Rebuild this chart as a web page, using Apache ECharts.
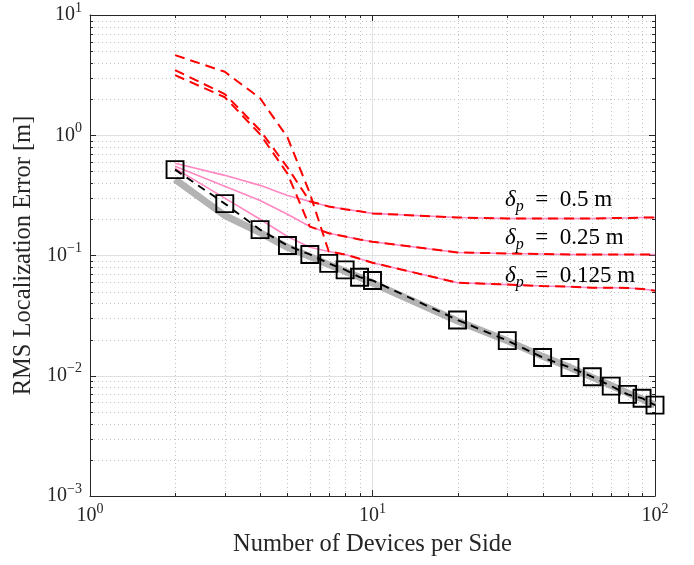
<!DOCTYPE html>
<html><head><meta charset="utf-8">
<script src="https://cdn.jsdelivr.net/npm/echarts@6/dist/echarts.min.js"></script>
<style>html,body{margin:0;padding:0;background:#fff}#c{width:694px;height:565px}</style>
</head><body><div id="c"></div>
<script>
// ---- data ----
const devices = [2,3,4,5,6,7,8,9,10,20,30,40,50,60,70,80,90,100];
const rmseSim = [0.518,0.27,0.164,0.121,0.102,0.086,0.076,0.066,0.062,0.0291,0.0196,0.0142,0.0117,0.0098,0.0082,0.0070,0.0065,0.0057];
const bound   = [0.43,0.215,0.155,0.117,0.098,0.084,0.074,0.066,0.059,0.0285,0.0195,0.0145,0.0117,0.0097,0.0083,0.0072,0.0064,0.0057];
const pinkHalf    = [0.585,0.464,0.383,0.316,0.282,0.256,0.242,0.233,0.224,0.207,0.203,0.203,0.203,0.203,0.205,0.205,0.207,0.207];
const pinkQuarter = [0.552,0.376,0.287,0.22,0.174,0.153,0.144,0.136,0.13,0.106,0.104,0.103,0.102,0.102,0.102,0.102,0.102,0.102];
const pinkEighth  = [0.53,0.30,0.20,0.144,0.117,0.108,0.102,0.094,0.087,0.0594,0.0573,0.0557,0.055,0.054,0.054,0.0537,0.0527,0.051];
const redHalf     = [3.48,2.2,1.1,0.54,0.282,0.256,0.242,0.233,0.224,0.207,0.203,0.203,0.203,0.203,0.205,0.205,0.207,0.207];
const redQuarter  = [3.16,2.07,1.02,0.48,0.174,0.153,0.144,0.136,0.13,0.106,0.104,0.103,0.102,0.102,0.102,0.102,0.102,0.102];
const redEighth   = [4.64,3.37,2.03,0.96,0.33,0.108,0.102,0.094,0.087,0.0594,0.0573,0.0557,0.055,0.054,0.054,0.0537,0.0527,0.051];
const xMinor = [2,3,4,5,6,7,8,9,20,30,40,50,60,70,80,90];
const yMinor = [0.002,0.003,0.004,0.005,0.006,0.007,0.008,0.009,0.02,0.03,0.04,0.05,0.06,0.07,0.08,0.09,0.2,0.3,0.4,0.5,0.6,0.7,0.8,0.9,2,3,4,5,6,7,8,9];
const deltaValues = ['0.5','0.25','0.125'];
const xName = 'Number of Devices per Side';
const yName = 'RMS Localization Error [m]';

// ---- chart ----
const FONT = 'Liberation Serif';
const AX = '#262626';
const xMin = 1, xMax = 100, yMin = 0.001, yMax = 10;
const pairs = arr => devices.map((x, i) => [x, arr[i]]);
const expLabel = v => {
  const e = Math.round(Math.log10(v));
  return '{b|10}{s|' + (e < 0 ? '\u2212' + (-e) : e) + '}';
};
const tickRich = {
  b: {fontFamily: FONT, fontSize: 20, lineHeight: 28, color: AX},
  s: {fontFamily: FONT, fontSize: 14, lineHeight: 16, verticalAlign: 'top', color: AX}
};
function minorRender(kind) {
  return function (params, api) {
    const cs = params.coordSys;
    const v = api.value(kind === 'x' ? 0 : 1);
    const dot = {stroke: '#c2c2c2', lineWidth: 1, lineDash: [1, 3]};
    const tk = {stroke: AX, lineWidth: 1};
    const ch = [];
    if (kind === 'x') {
      const p = Math.round(api.coord([v, yMin])[0]) + 0.5;
      const t = cs.y, b = cs.y + cs.height;
      ch.push({type: 'line', shape: {x1: p, y1: t, x2: p, y2: b}, style: dot});
      ch.push({type: 'line', shape: {x1: p, y1: b, x2: p, y2: b - 3}, style: tk});
      ch.push({type: 'line', shape: {x1: p, y1: t, x2: p, y2: t + 3}, style: tk});
    } else {
      const p = Math.round(api.coord([xMin, v])[1]) + 0.5;
      const l = cs.x, r = cs.x + cs.width;
      ch.push({type: 'line', shape: {x1: l, y1: p, x2: r, y2: p}, style: dot});
      ch.push({type: 'line', shape: {x1: l, y1: p, x2: l + 3, y2: p}, style: tk});
      ch.push({type: 'line', shape: {x1: r, y1: p, x2: r - 3, y2: p}, style: tk});
    }
    return {type: 'group', children: ch};
  };
}
const lineBase = {type: 'line', showSymbol: false, symbol: 'none', animation: false, silent: true};
const chart = echarts.init(document.getElementById('c'), null, {renderer: 'canvas'});
chart.setOption({
  backgroundColor: '#fff',
  animation: false,
  grid: {left: 90, right: 39, top: 15, bottom: 69},
  xAxis: [
    {type: 'log', logBase: 10, min: xMin, max: xMax, position: 'bottom',
     name: xName, nameLocation: 'middle', nameGap: 36,
     nameTextStyle: {fontFamily: FONT, fontSize: 24.5, color: AX},
     axisLine: {show: true, lineStyle: {color: AX, width: 1}},
     axisTick: {show: true, inside: true, length: 6, lineStyle: {color: AX}},
     axisLabel: {show: true, margin: 6, formatter: expLabel, rich: tickRich, showMinLabel: true, showMaxLabel: true, hideOverlap: false},
     splitLine: {show: true, lineStyle: {color: '#e0e0e0', width: 1}}},
    {type: 'log', logBase: 10, min: xMin, max: xMax, position: 'top',
     axisLine: {show: true, lineStyle: {color: AX, width: 1}},
     axisTick: {show: true, inside: true, length: 6, lineStyle: {color: AX}},
     axisLabel: {show: false}, splitLine: {show: false}}
  ],
  yAxis: [
    {type: 'log', logBase: 10, min: yMin, max: yMax, position: 'left',
     name: yName, nameLocation: 'middle', nameGap: 54, nameRotate: 90,
     nameTextStyle: {fontFamily: FONT, fontSize: 24.5, color: AX},
     axisLine: {show: true, lineStyle: {color: AX, width: 1}},
     axisTick: {show: true, inside: true, length: 6, lineStyle: {color: AX}},
     axisLabel: {show: true, margin: 8, formatter: expLabel, rich: tickRich, showMinLabel: true, showMaxLabel: true, hideOverlap: false},
     splitLine: {show: true, lineStyle: {color: '#e0e0e0', width: 1}}},
    {type: 'log', logBase: 10, min: yMin, max: yMax, position: 'right',
     axisLine: {show: true, lineStyle: {color: AX, width: 1}},
     axisTick: {show: true, inside: true, length: 6, lineStyle: {color: AX}},
     axisLabel: {show: false}, splitLine: {show: false}}
  ],
  series: [
    {type: 'custom', renderItem: minorRender('x'), data: xMinor.map(v => [v, 1]), z: 1, silent: true, animation: false, clip: false},
    {type: 'custom', renderItem: minorRender('y'), data: yMinor.map(v => [10, v]), z: 1, silent: true, animation: false, clip: false},
    Object.assign({}, lineBase, {data: pairs(bound), z: 2, lineStyle: {color: '#b3b3b3', width: 7}}),
    Object.assign({}, lineBase, {data: pairs(pinkHalf), z: 3, lineStyle: {color: '#ff88c2', width: 1.6}}),
    Object.assign({}, lineBase, {data: pairs(pinkQuarter), z: 3, lineStyle: {color: '#ff88c2', width: 1.6}}),
    Object.assign({}, lineBase, {data: pairs(pinkEighth), z: 3, lineStyle: {color: '#ff88c2', width: 1.6}}),
    Object.assign({}, lineBase, {data: pairs(redHalf), z: 4, lineStyle: {color: '#ff0000', width: 2, type: [10, 6]}}),
    Object.assign({}, lineBase, {data: pairs(redQuarter), z: 4, lineStyle: {color: '#ff0000', width: 2, type: [10, 6]}}),
    Object.assign({}, lineBase, {data: pairs(redEighth), z: 4, lineStyle: {color: '#ff0000', width: 2, type: [10, 6]}}),
    {type: 'line', data: pairs(rmseSim), z: 5, animation: false, silent: true,
     symbol: 'rect', symbolSize: 17, showSymbol: true,
     itemStyle: {color: 'rgba(0,0,0,0)', borderColor: '#000', borderWidth: 1.9},
     lineStyle: {color: '#000', width: 1.9, type: [8, 6]}}
  ],
  graphic: deltaValues.map((v, i) => ({
    type: 'text', x: 505, y: [199.5, 237.5, 275.5][i], z: 10,
    style: {
      text: '{d|\u03b4}{p|p}{t|\u2002=\u2002' + v + ' m}',
      verticalAlign: 'middle', align: 'left',
      rich: {
        d: {fontFamily: FONT, fontStyle: 'italic', fontSize: 23, lineHeight: 30, fill: '#000'},
        p: {fontFamily: FONT, fontStyle: 'italic', fontSize: 16, lineHeight: 19, verticalAlign: 'bottom', fill: '#000'},
        t: {fontFamily: FONT, fontSize: 23, lineHeight: 30, fill: '#000'}
      }
    }
  }))
});
</script></body></html>
